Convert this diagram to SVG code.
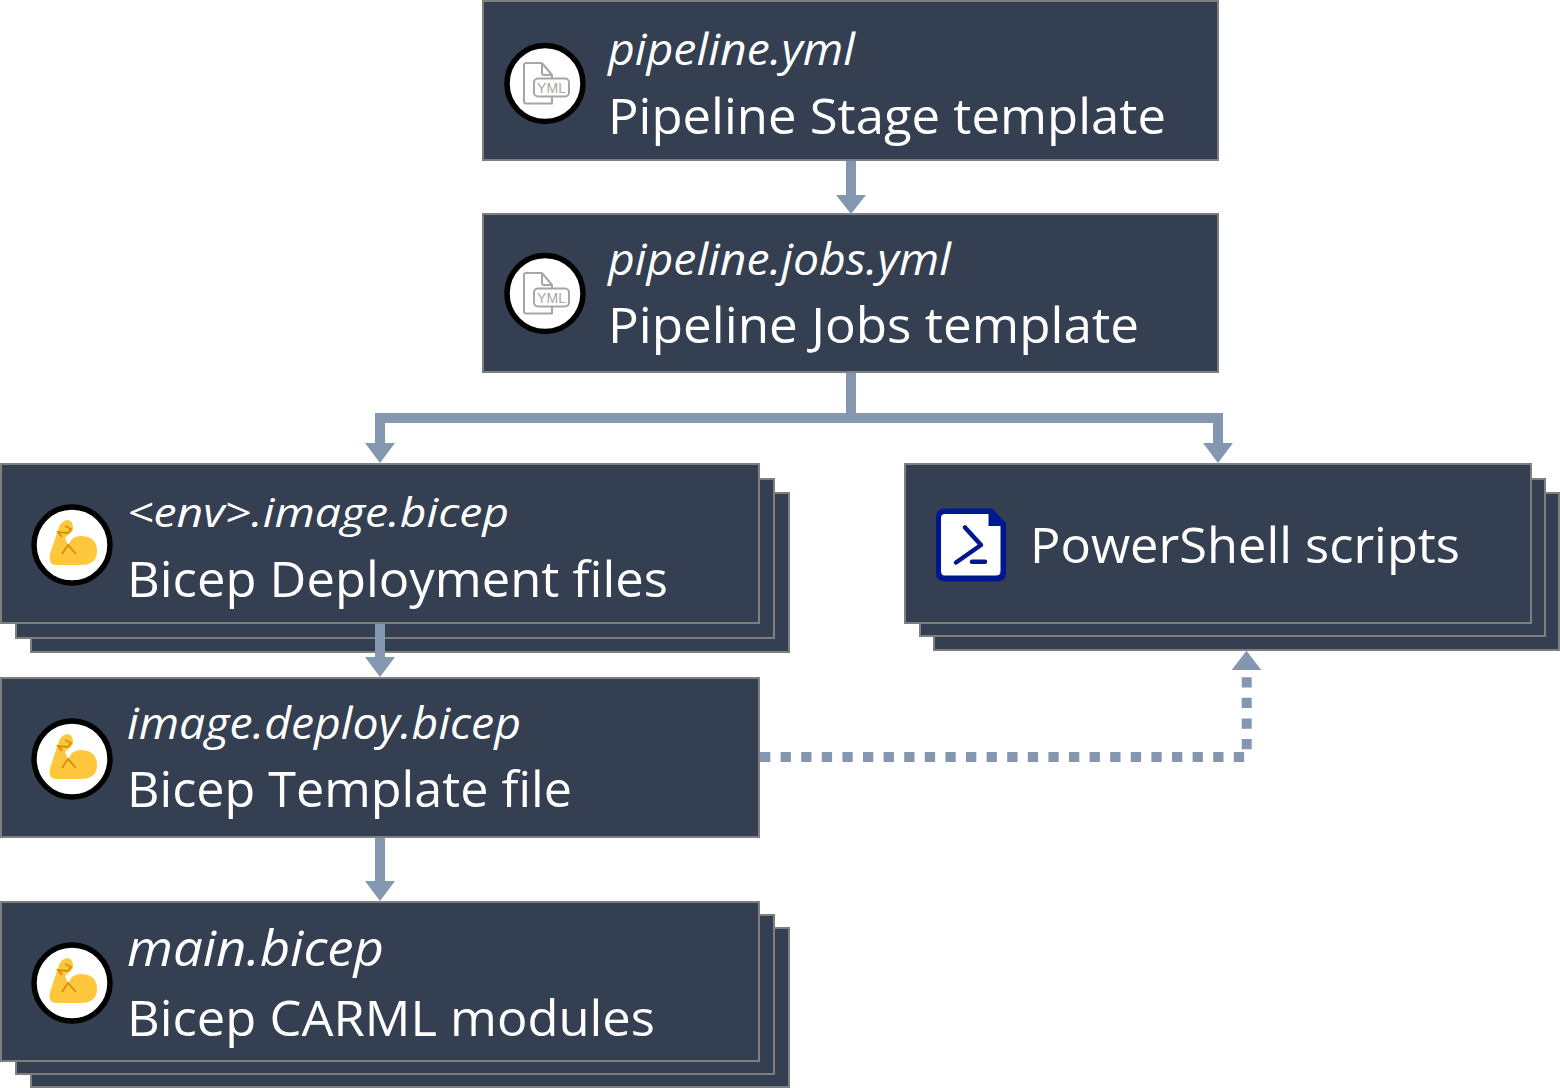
<svg xmlns="http://www.w3.org/2000/svg" width="1560" height="1088" viewBox="0 0 1560 1088">
<style>
.b{fill:#343f51;stroke:#7f7f7f;stroke-width:2}
.t{font-family:"Open Sans","Noto Sans",sans-serif;fill:#fff}
.i{font-style:italic;font-size:43px}
.m{font-size:50px}
.c{fill:none;stroke:#8497b0;stroke-width:10}
.h{fill:#8497b0}
.ring{fill:#fff;stroke:#000;stroke-width:5.5}
.y{fill:none;stroke:#a6a6a6;stroke-width:2;stroke-linejoin:round}
.yt{font-family:"Liberation Sans",sans-serif;font-size:14px;fill:#a6a6a6}
.bi{fill:#ffc73c}
.bl{fill:none;stroke:#d98c0a;stroke-width:1.8}
</style>
<defs>
<g id="yml">
<circle r="38" class="ring"/>
<path class="y" d="M-3 -20.500H-19Q-21 -20.500 -21 -18.500V18Q-21 20 -19 20H7V13M-3 -20.500L7 -8.500V-5M-3 -20.500V-10.500Q-3 -8.500 -1 -8.500H7"/>
<rect class="y" x="-11" y="-5" width="35" height="18" rx="4" fill="#fff" style="fill:#fff"/>
<text class="yt" x="6.500" y="9.500" text-anchor="middle" textLength="29">YML</text>
</g>
<g id="bic">
<circle r="38" class="ring"/>
<path class="bi" d="M-16 20Q-24 20 -22 9L-13 -18Q-10 -25 -4 -25Q1 -24 1 -17Q1 -13 -3 -11L-7 -7L-4 0L0 -6Q4 -9 10 -9Q25 -8 25 6Q25 20 8 20Z"/>
<path class="bl" d="M-7 -19L-1 -16L-4 -12L-14 -13L-10 -8M-10 9L-4 0L4 9"/>
</g>
</defs>
<g id="pipeline-stage">
<rect class="b" x="483" y="1" width="735" height="159"/>
<use href="#yml" x="545" y="83.500"/>
<text class="t i" x="608" y="65" textLength="247" lengthAdjust="spacingAndGlyphs">pipeline.yml</text>
<text class="t m" x="608" y="134" textLength="558" lengthAdjust="spacingAndGlyphs">Pipeline Stage template</text>
</g>
<g id="pipeline-jobs">
<rect class="b" x="483" y="214" width="735" height="158"/>
<use href="#yml" x="545" y="293.500"/>
<text class="t i" x="608" y="275" textLength="343" lengthAdjust="spacingAndGlyphs">pipeline.jobs.yml</text>
<text class="t m" x="608" y="343" textLength="531" lengthAdjust="spacingAndGlyphs">Pipeline Jobs template</text>
</g>
<g id="bicep-deployment">
<rect class="b" x="31" y="493" width="758" height="159"/>
<rect class="b" x="16" y="479" width="758" height="159"/>
<rect class="b" x="1" y="464" width="758" height="159"/>
<use href="#bic" x="72" y="545"/>
<text class="t i" style="font-size:40px" x="127" y="527" textLength="382" lengthAdjust="spacingAndGlyphs">&lt;env&gt;.image.bicep</text>
<text class="t m" x="127" y="597" textLength="541" lengthAdjust="spacingAndGlyphs">Bicep Deployment files</text>
</g>
<g id="powershell">
<rect class="b" x="934" y="493" width="625" height="157"/>
<rect class="b" x="920" y="479" width="625" height="157"/>
<rect class="b" x="905" y="464" width="626" height="159"/>
<path d="M945 508.500H992L1006 523V573Q1006 581.500 997 581.500H945Q936 581.500 936 573V517Q936 508.500 945 508.500Z" fill="#00188f"/>
<path d="M945 514H988.500V526H1000.500V571Q1000.500 575.500 996 575.500H945Q941 575.500 941 571V518Q941 514 945 514Z" fill="#fff"/>
<path d="M965 527.500L981 545L956 562.500M972 561.700H985" fill="none" stroke="#00188f" stroke-width="4.500" stroke-linecap="round" stroke-linejoin="round"/>
<text class="t m" x="1030" y="563" textLength="430" lengthAdjust="spacingAndGlyphs">PowerShell scripts</text>
</g>
<g id="bicep-template">
<rect class="b" x="1" y="678" width="758" height="159"/>
<use href="#bic" x="72" y="759"/>
<text class="t i" x="127" y="739" textLength="394" lengthAdjust="spacingAndGlyphs">image.deploy.bicep</text>
<text class="t m" x="127" y="807" textLength="445" lengthAdjust="spacingAndGlyphs">Bicep Template file</text>
</g>
<g id="carml-modules">
<rect class="b" x="31" y="928" width="758" height="159"/>
<rect class="b" x="16" y="915" width="758" height="159"/>
<rect class="b" x="1" y="902" width="758" height="159"/>
<use href="#bic" x="72" y="983"/>
<text class="t i" style="font-size:50px" x="127" y="966" textLength="257" lengthAdjust="spacingAndGlyphs">main.bicep</text>
<text class="t m" x="127" y="1036" textLength="528" lengthAdjust="spacingAndGlyphs">Bicep CARML modules</text>
</g>
<g id="connectors">
<path class="c" d="M851 161V200"/><path class="h" d="M836 195H866L851 214Z"/>
<path class="c" d="M851 373V418M380 448V418H1218V448"/>
<path class="h" d="M365 443H395L380 463Z"/><path class="h" d="M1203 443H1233L1218 463Z"/>
<path class="c" d="M380 624V664"/><path class="h" d="M365 657H395L380 677Z"/>
<path class="c" d="M380 838V888"/><path class="h" d="M365 881H395L380 901Z"/>
<path class="c" stroke-dasharray="10.300 10.300" d="M760 757H1246.700V668"/>
<path class="h" d="M1231.700 670H1261.300L1246.500 650.700Z"/>
</g>
</svg>
